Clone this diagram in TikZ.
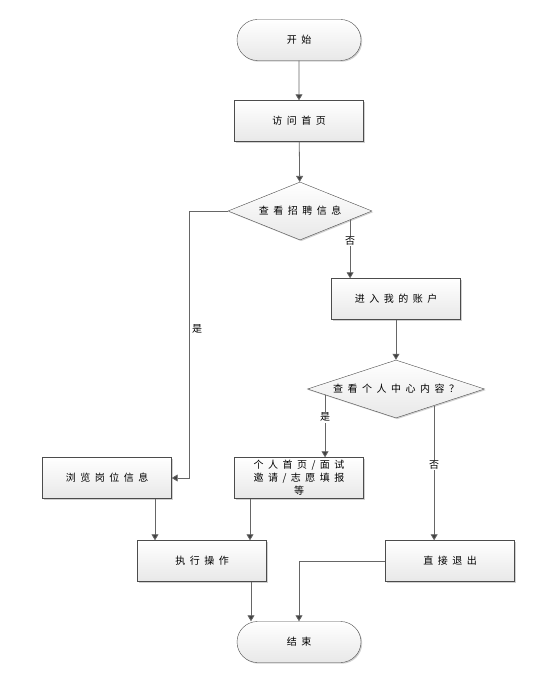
\documentclass[tikz,border=0pt]{standalone}
\usepackage{fontspec}
\setmainfont{Noto Sans CJK SC}[LetterSpace=45]
\usetikzlibrary{shapes.geometric,shapes.misc,arrows.meta,calc,shadows}
\begin{document}
\begin{tikzpicture}[
    x=1pt, y=-1pt,
    base/.style = {draw=black!70, top color=white, bottom color=gray!18, inner sep=2pt, font=\fontsize{10}{13}\selectfont,
                   drop shadow={shadow xshift=1.2pt, shadow yshift=-1.2pt, fill=gray!60, opacity=0.6}},
    term/.style = {base, rounded rectangle, minimum width=128pt, minimum height=41pt},
    rect/.style = {base, rectangle, minimum width=129pt, minimum height=41pt, align=center},
    dia/.style  = {base, diamond, inner sep=0pt, aspect=3},
    lbl/.style  = {fill=white, inner sep=1pt, font=\fontsize{10}{12}\selectfont},
    arrow/.style = {draw=black!60, line width=0.8pt, -{Triangle[width=7pt,length=6pt,fill=black!75]}}
]
    \useasboundingbox (0,0) rectangle (554,676);

    \node[term] (start) at (299, 40) {开始};
    \node[rect] (visit) at (299, 121) {访问首页};
    \node[dia, minimum width=144pt, minimum height=58pt] (look) at (300, 211) {查看招聘信息};
    \node[rect] (account) at (396, 299) {进入我的账户};
    \node[dia, minimum width=177pt, minimum height=58pt] (center) at (396, 389) {查看个人中心内容？};

    \node[rect] (browse) at (107, 478) {浏览岗位信息};
    \node[rect] (personal) at (299, 478) {个人首页/面试\\邀请/志愿填报\\等};
    \node[rect] (exec) at (202, 561) {执行操作};
    \node[rect] (quit) at (450, 561) {直接退出};
    \node[term] (end) at (299, 642) {结束};

    % points on the diamond edges
    \coordinate (lookno) at ($(look.east)!0.306!(look.south)$);
    \coordinate (ctryes) at ($(center.west)!0.2!(center.south)$);
    \coordinate (ctrno) at ($(center.east)!0.57!(center.south)$);

    \path[arrow] (start) -- (visit);
    \path[arrow] (visit) -- (look);
    \path[arrow] (look.west) -- ++(-38,0) |- (browse.east) node[pos=0.22, right, inner sep=2pt, font=\fontsize{10}{12}\selectfont] {是};
    \path[arrow] (lookno) -- (lookno |- account.north) node[lbl, pos=0.36] {否};
    \path[arrow] (account) -- (center);
    \path[arrow] (ctryes) -- (ctryes |- personal.north) node[lbl, pos=0.36] {是};
    \path[arrow] (ctrno) -- (ctrno |- quit.north) node[lbl, pos=0.44] {否};
    \path[arrow] ([xshift=48pt]browse.south) -- ([xshift=-47pt]exec.north);
    \path[arrow] ([xshift=-49pt]personal.south) -- ([xshift=48pt]exec.north);
    \path[arrow] ([xshift=49pt]exec.south) -- ([xshift=-48pt]end.north);
    \path[arrow] (quit.west) -| (end.north);
\end{tikzpicture}
\end{document}
